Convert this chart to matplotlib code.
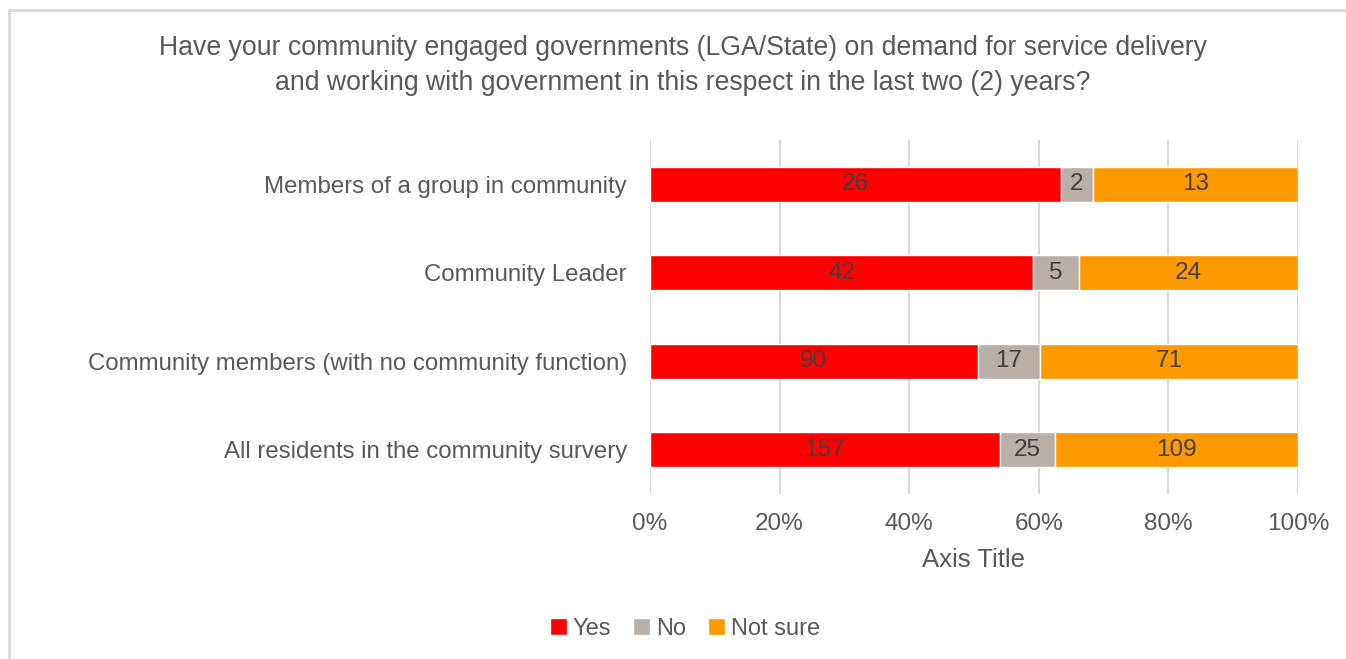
import numpy as np
import matplotlib.pyplot as plt
from matplotlib.patches import Rectangle

# --- data -------------------------------------------------
categories = ['All residents in the community survery',
              'Community members (with no community function)',
              'Community Leader',
              'Members of a group in community']
yes = np.array([157, 90, 42, 26])
no = np.array([25, 17, 5, 2])
not_sure = np.array([109, 71, 24, 13])
series = ['Yes', 'No', 'Not sure']
colors = ['#FF0000', '#B8B0A8', '#FF9900']

title = ("Have your community engaged governments (LGA/State) on demand for service delivery\n"
         "and working with government in this respect in the last two (2) years?")

plt.rcParams['font.family'] = ['Liberation Sans', 'DejaVu Sans']
txt = '#595959'

counts = np.vstack([yes, no, not_sure])
shares = counts / counts.sum(axis=0)

fig = plt.figure(figsize=(13.46, 6.59), dpi=100)
ax = fig.add_axes([650 / 1346, 1 - 494 / 659, 648 / 1346, 354 / 659])

y = np.arange(len(categories))
left = np.zeros(len(categories))
for name, share, cnt, col in zip(series, shares, counts, colors):
    bars = ax.barh(y, share, left=left, height=0.4, color=col,
                   edgecolor='white', linewidth=1, label=name, zorder=3)
    ax.bar_label(bars, labels=[str(c) for c in cnt], label_type='center',
                 color='#404040', fontsize=17.5)
    left += share

ax.set_xlim(0, 1)
ax.set_ylim(-0.5, len(categories) - 0.5)
ax.set_xticks(np.linspace(0, 1, 6))
ax.set_xticklabels([f'{int(v)}%' for v in np.linspace(0, 100, 6)])
ax.set_yticks(y)
ax.set_yticklabels(categories)
ax.tick_params(axis='y', length=0, pad=16.5, labelsize=17.3, labelcolor=txt)
ax.tick_params(axis='x', length=0, pad=14, labelsize=17.5, labelcolor=txt)
ax.grid(axis='x', color='#D9D9D9', linewidth=1.5, zorder=0)
for s in ax.spines.values():
    s.set_visible(False)
ax.set_xlabel('Axis Title', fontsize=18.5, color=txt, labelpad=9)

fig.text(683 / 1346, 1 - 65.5 / 659, title, ha='center', va='center',
         fontsize=19.2, color=txt, linespacing=1.42)

fig.legend(loc='center', bbox_to_anchor=(685 / 1346, 1 - 629 / 659), ncol=3,
           frameon=False, fontsize=17, handlelength=0.7, handleheight=0.7,
           handletextpad=0.25, columnspacing=0.95, labelcolor=txt)

# chart frame
fig.patches.append(Rectangle((9 / 1346, -0.1), 1.2, 1 - 10 / 659 + 0.1,
                             transform=fig.transFigure, fill=False,
                             edgecolor='#D9D9D9', linewidth=2))

fig.savefig('out.png', dpi=100)
